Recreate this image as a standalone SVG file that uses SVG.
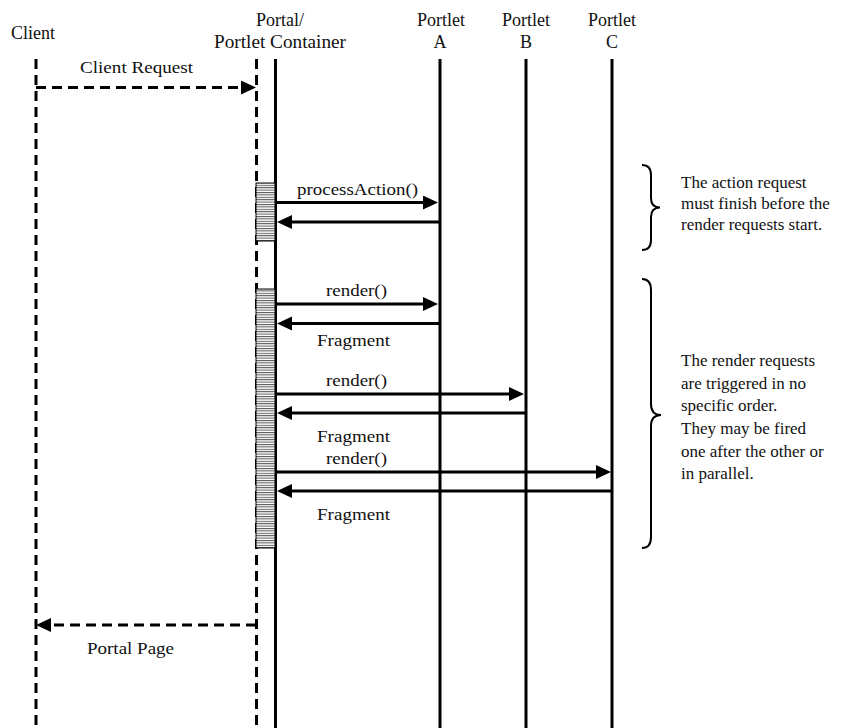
<svg xmlns="http://www.w3.org/2000/svg" width="853" height="728" viewBox="0 0 853 728">
<style>
text{font-family:"Liberation Serif","Times New Roman",serif;font-size:17px;fill:#111}
.h{font-size:18px;text-anchor:middle}
.lbl{font-size:17px;text-anchor:middle}
.note{font-size:17px}
.solid{stroke:#000;stroke-width:3;fill:none}
.dash{stroke:#000;stroke-width:3;stroke-dasharray:10 6;fill:none}
.msg{stroke:#000;stroke-width:3;fill:none;marker-end:url(#ah)}
.rmsg{stroke:#000;stroke-width:3;stroke-dasharray:10 6;fill:none;marker-end:url(#ah)}
.brace{stroke:#000;stroke-width:2;fill:none}
.act{fill:url(#hatch);stroke:#000;stroke-width:1}
</style>
<defs>
<marker id="ah" markerUnits="userSpaceOnUse" markerWidth="16" markerHeight="15" refX="0" refY="7" orient="auto">
<path d="M0,0 L15,7 L0,14 z" fill="#000"/>
</marker>
<pattern id="hatch" patternUnits="userSpaceOnUse" width="20" height="2.4">
<rect width="20" height="2.4" fill="#fff"/>
<rect y="0" width="20" height="1" fill="#555"/>
</pattern>
</defs>
<rect width="853" height="728" fill="#fff"/>

<g id="client">
<text class="h" x="33" y="39">Client</text>
<line class="dash" x1="36" y1="59" x2="36" y2="728"/>
</g>
<g id="portal">
<text class="h" x="280" y="26">Portal/</text>
<text class="h" x="280" y="48" textLength="132" lengthAdjust="spacingAndGlyphs">Portlet Container</text>
<line class="dash" x1="256.5" y1="59" x2="256.5" y2="728"/>
<line class="solid" x1="275.5" y1="59" x2="275.5" y2="728"/>
<rect class="act" x="256" y="183" width="19" height="58"/>
<rect class="act" x="256" y="289" width="19" height="259"/>
</g>
<g id="portletA">
<text class="h" x="441" y="26">Portlet</text>
<text class="h" x="440" y="48">A</text>
<line class="solid" x1="440" y1="59" x2="440" y2="728"/>
</g>
<g id="portletB">
<text class="h" x="526" y="26">Portlet</text>
<text class="h" x="526" y="48">B</text>
<line class="solid" x1="526" y1="59" x2="526" y2="728"/>
</g>
<g id="portletC">
<text class="h" x="612" y="26">Portlet</text>
<text class="h" x="612" y="48">C</text>
<line class="solid" x1="612" y1="59" x2="612" y2="728"/>
</g>

<g id="connectors">
<line class="rmsg" x1="36" y1="87.5" x2="241" y2="87.5"/>
<text class="lbl" x="136.5" y="73" textLength="113" lengthAdjust="spacingAndGlyphs">Client Request</text>

<line class="msg" x1="277" y1="202.5" x2="423" y2="202.5"/>
<text class="lbl" x="357.5" y="195" textLength="121" lengthAdjust="spacingAndGlyphs">processAction()</text>
<line class="msg" x1="439" y1="222" x2="292" y2="222"/>

<line class="msg" x1="277" y1="304" x2="423" y2="304"/>
<text class="lbl" x="356.5" y="296" textLength="61" lengthAdjust="spacingAndGlyphs">render()</text>
<line class="msg" x1="439" y1="323.5" x2="292" y2="323.5"/>
<text class="lbl" x="353.5" y="346" textLength="73" lengthAdjust="spacingAndGlyphs">Fragment</text>

<line class="msg" x1="277" y1="394" x2="509" y2="394"/>
<text class="lbl" x="356.5" y="386" textLength="61" lengthAdjust="spacingAndGlyphs">render()</text>
<line class="msg" x1="525" y1="413" x2="292" y2="413"/>
<text class="lbl" x="353.5" y="442" textLength="73" lengthAdjust="spacingAndGlyphs">Fragment</text>

<line class="msg" x1="277" y1="472" x2="596" y2="472"/>
<text class="lbl" x="356.5" y="464" textLength="61" lengthAdjust="spacingAndGlyphs">render()</text>
<line class="msg" x1="611" y1="491" x2="292" y2="491"/>
<text class="lbl" x="353.5" y="520" textLength="73" lengthAdjust="spacingAndGlyphs">Fragment</text>

<line class="rmsg" x1="256" y1="625" x2="51" y2="625"/>
<text class="lbl" x="130.5" y="654" textLength="87" lengthAdjust="spacingAndGlyphs">Portal Page</text>
</g>

<g id="note-action">
<path class="brace" d="M642,165 Q651,165 651,175 L651,198 Q651,207.5 660,207.5 Q651,207.5 651,217 L651,240 Q651,250 642,250"/>
<text class="note" x="681" y="188">The action request</text>
<text class="note" x="681" y="209">must finish before the</text>
<text class="note" x="681" y="230">render requests start.</text>
</g>
<g id="note-render">
<path class="brace" d="M642,279 Q651,279 651,290 L651,404 Q651,415 661,415 Q651,415 651,426 L651,537 Q651,548 642,548"/>
<text class="note" x="681" y="366">The render requests</text>
<text class="note" x="681" y="389">are triggered in no</text>
<text class="note" x="681" y="411">specific order.</text>
<text class="note" x="681" y="434">They may be fired</text>
<text class="note" x="681" y="457">one after the other or</text>
<text class="note" x="681" y="479">in parallel.</text>
</g>
</svg>
